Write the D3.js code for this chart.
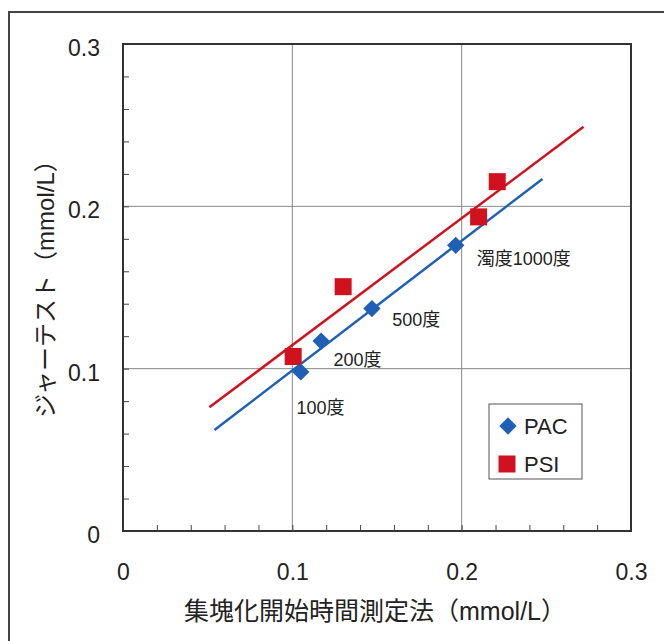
<!DOCTYPE html>
<html>
<head>
<meta charset="utf-8">
<script src="https://cdn.jsdelivr.net/npm/d3@7"></script>
<style>
  html, body { margin: 0; padding: 0; background: #fff; }
  svg { display: block; }
  text { font-family: "Liberation Sans", Arial, "Noto Sans CJK JP", sans-serif; fill: #222; }
</style>
</head>
<body>
<script>
// PAC (polyaluminium chloride) results
const pacX = [0.105, 0.117, 0.147, 0.1965];
const pacY = [0.098, 0.117, 0.137, 0.176];
// PSI results
const psiX = [0.1005, 0.130, 0.210, 0.221];
const psiY = [0.1075, 0.1505, 0.1935, 0.2152];
// Linear trend line end points
const pacTrendX = [0.054, 0.2477];
const pacTrendY = [0.0622, 0.2169];
const psiTrendX = [0.051, 0.272];
const psiTrendY = [0.0762, 0.249];
// Turbidity annotations placed next to the PAC points
const noteText = ["100度", "200度", "500度", "濁度1000度"];
const noteX = [0.1024, 0.1243, 0.159, 0.2089];
const noteY = [0.0721, 0.1017, 0.1263, 0.1639];
// Axis ticks
const majorTicks = [0, 0.1, 0.2, 0.3];
const tickLabels = ["0", "0.1", "0.2", "0.3"];
const minorTicks = d3.range(1, 15).map(i => i * 0.02);

const W = 664, H = 641;
const plotL = 123, plotR = 631, plotT = 44, plotB = 531;
const blue = "#1f5fb4", red = "#d0121f";

const svg = d3.select("body").append("svg").attr("width", W).attr("height", H);

// outer frame
svg.append("path")
  .attr("d", `M9,${H + 5} V12 H${W + 5}`)
  .attr("fill", "none").attr("stroke", "#444").attr("stroke-width", 2);

const x = d3.scaleLinear().domain([0, 0.3]).range([plotL, plotR]);
const y = d3.scaleLinear().domain([0, 0.3]).range([plotB, plotT]);

// grid lines
const grid = svg.append("g").attr("stroke", "#888").attr("stroke-width", 1);
[0.1, 0.2].forEach(v => {
  grid.append("line").attr("x1", x(v)).attr("x2", x(v)).attr("y1", plotT).attr("y2", plotB);
  grid.append("line").attr("y1", y(v)).attr("y2", y(v)).attr("x1", plotL).attr("x2", plotR);
});

// minor ticks pointing inward
const xAxisMinor = d3.axisBottom(x).tickValues(minorTicks).tickSize(-6).tickFormat("");
svg.append("g").attr("transform", `translate(0,${plotB})`).call(xAxisMinor)
  .call(g => g.select(".domain").remove())
  .call(g => g.selectAll("line").attr("stroke", "#444"));
const yAxisMinor = d3.axisLeft(y).tickValues(minorTicks).tickSize(-6).tickFormat("");
svg.append("g").attr("transform", `translate(${plotL},0)`).call(yAxisMinor)
  .call(g => g.select(".domain").remove())
  .call(g => g.selectAll("line").attr("stroke", "#444"));

// plot border
svg.append("rect").attr("x", plotL).attr("y", plotT)
  .attr("width", plotR - plotL).attr("height", plotB - plotT)
  .attr("fill", "none").attr("stroke", "#333").attr("stroke-width", 2);

// major tick labels
const xAxis = d3.axisBottom(x).tickValues(majorTicks).tickSize(0)
  .tickFormat((d, i) => tickLabels[i]).tickPadding(33);
svg.append("g").attr("transform", `translate(0,${plotB})`).call(xAxis)
  .call(g => g.select(".domain").remove())
  .call(g => g.selectAll("text").style("font-size", "23px").attr("fill", "#222"));
const yAxis = d3.axisLeft(y).tickValues(majorTicks).tickSize(0)
  .tickFormat((d, i) => tickLabels[i]).tickPadding(23);
svg.append("g").attr("transform", `translate(${plotL},0)`).call(yAxis)
  .call(g => g.select(".domain").remove())
  .call(g => g.selectAll("text").style("font-size", "23px").attr("fill", "#222").attr("dy", "0.5em"));

// axis titles
svg.append("text").attr("x", (plotL + plotR) / 2 - 2).attr("y", 620)
  .attr("text-anchor", "middle").style("font-size", "25px")
  .text("集塊化開始時間測定法（mmol/L）");
svg.append("text").attr("transform", `translate(54,283) rotate(-90)`)
  .attr("text-anchor", "middle").style("font-size", "24px")
  .text("ジャーテスト（mmol/L）");

// trend lines
const line = d3.line().x(d => x(d[0])).y(d => y(d[1]));
svg.append("path").datum(d3.zip(psiTrendX, psiTrendY)).attr("d", line)
  .attr("fill", "none").attr("stroke", red).attr("stroke-width", 2.5);
svg.append("path").datum(d3.zip(pacTrendX, pacTrendY)).attr("d", line)
  .attr("fill", "none").attr("stroke", blue).attr("stroke-width", 2.5);

// PSI squares
const sq = 17;
svg.append("g").selectAll("rect").data(d3.zip(psiX, psiY)).join("rect")
  .attr("x", d => x(d[0]) - sq / 2).attr("y", d => y(d[1]) - sq / 2)
  .attr("width", sq).attr("height", sq).attr("fill", red);

// PAC diamonds
const diamond = d3.symbol().type(d3.symbolSquare).size(150);
svg.append("g").selectAll("path").data(d3.zip(pacX, pacY)).join("path")
  .attr("d", diamond)
  .attr("transform", d => `translate(${x(d[0])},${y(d[1])}) rotate(45)`)
  .attr("fill", blue);

// annotations
svg.append("g").selectAll("text").data(d3.zip(noteText, noteX, noteY)).join("text")
  .attr("x", d => x(d[1])).attr("y", d => y(d[2]))
  .style("font-size", "18px").text(d => d[0]);

// legend
const lg = svg.append("g");
lg.append("rect").attr("x", 489).attr("y", 404).attr("width", 93).attr("height", 75)
  .attr("fill", "#fff").attr("stroke", "#555").attr("stroke-width", 1);
lg.append("path").attr("d", diamond)
  .attr("transform", "translate(508,426) rotate(45)").attr("fill", blue);
lg.append("rect").attr("x", 507 - sq / 2).attr("y", 464 - sq / 2)
  .attr("width", sq).attr("height", sq).attr("fill", red);
lg.append("text").attr("x", 524).attr("y", 434).style("font-size", "22px").text("PAC");
lg.append("text").attr("x", 524).attr("y", 472).style("font-size", "22px").text("PSI");
</script>
</body>
</html>
